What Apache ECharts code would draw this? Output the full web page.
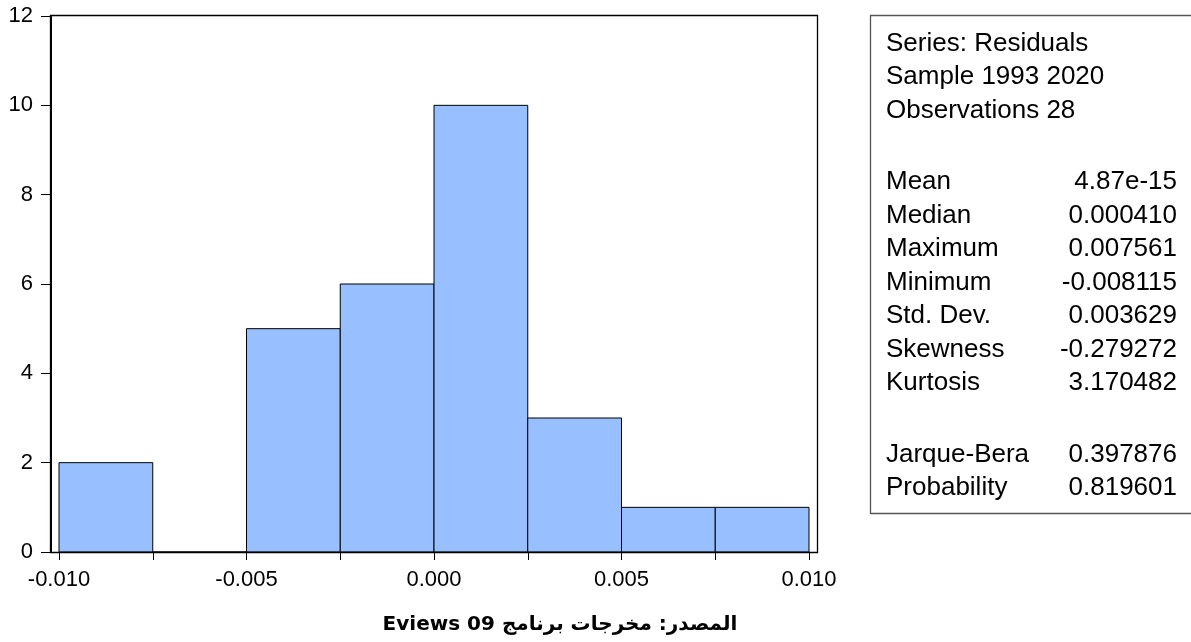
<!DOCTYPE html>
<html>
<head>
<meta charset="utf-8">
<script src="https://cdn.jsdelivr.net/npm/echarts@6/dist/echarts.min.js"></script>
<style>
  html, body { margin: 0; padding: 0; background: #fff; }
  #chart { width: 1191px; height: 642px; }
</style>
</head>
<body>
<div id="chart"></div>
<script>
// histogram of residuals, bins of 0.0025
const binStarts = [-0.01, -0.0075, -0.005, -0.0025, 0, 0.0025, 0.005, 0.0075];
const binWidth = 0.0025;
const counts = [2, 0, 5, 6, 10, 3, 1, 1];

const headerLines = ['Series: Residuals', 'Sample 1993 2020', 'Observations 28'];
const statLabels = ['Mean', 'Median', 'Maximum', 'Minimum', 'Std. Dev.', 'Skewness', 'Kurtosis'];
const statValues = ['4.87e-15', '0.000410', '0.007561', '-0.008115', '0.003629', '-0.279272', '3.170482'];
const testLabels = ['Jarque-Bera', 'Probability'];
const testValues = ['0.397876', '0.819601'];

// shown left-to-right; reads as "المصدر: مخرجات برنامج Eviews 09"
const caption = 'Eviews 09 المصدر: مخرجات برنامج';

const chart = echarts.init(document.getElementById('chart'));
const font = 'Liberation Sans, Arial, sans-serif';

const textEls = [];
const statFont = 26;
function addLine(y, left, right) {
  textEls.push({
    type: 'text', x: 886, y: y,
    style: { text: left, font: statFont + 'px ' + font, fill: '#000', verticalAlign: 'middle' }
  });
  if (right != null) {
    textEls.push({
      type: 'text', x: 1177, y: y,
      style: { text: right, font: statFont + 'px ' + font, fill: '#000', align: 'right', verticalAlign: 'middle' }
    });
  }
}
headerLines.forEach((t, i) => addLine(44 + i * 33.3, t));
statLabels.forEach((t, i) => addLine(182 + i * 33.5, t, statValues[i]));
testLabels.forEach((t, i) => addLine(455 + i * 33.3, t, testValues[i]));

chart.setOption({
  animation: false,
  backgroundColor: '#fff',
  grid: { left: 59, right: 382, top: 16, bottom: 90 },
  xAxis: {
    type: 'value',
    min: -0.01,
    max: 0.01,
    interval: 0.0025,
    axisLine: { onZero: false, lineStyle: { color: '#000', width: 1 } },
    axisTick: { show: true, length: 8, lineStyle: { color: '#000' } },
    axisLabel: {
      color: '#000',
      fontFamily: font,
      fontSize: 22,
      margin: 17,
      formatter: v => {
        const k = Math.round(v / binWidth);
        return k % 2 === 0 ? (k * binWidth).toFixed(3) : '';
      }
    },
    splitLine: { show: false }
  },
  yAxis: {
    type: 'value',
    min: 0,
    max: 12,
    interval: 2,
    offset: 8,
    axisLine: { show: true, onZero: false, lineStyle: { color: '#000', width: 1 } },
    axisTick: { show: true, length: 10, lineStyle: { color: '#000' } },
    axisLabel: { color: '#000', fontFamily: font, fontSize: 22, margin: 18 },
    splitLine: { show: false }
  },
  series: [{
    type: 'custom',
    data: binStarts.map((s, i) => [s, s + binWidth, counts[i]]),
    encode: { x: [0, 1], y: 2 },
    renderItem: (params, api) => {
      const p0 = api.coord([api.value(0), api.value(2)]);
      const p1 = api.coord([api.value(1), 0]);
      return {
        type: 'rect',
        shape: { x: p0[0], y: p0[1], width: p1[0] - p0[0], height: p1[1] - p0[1] },
        style: { fill: '#98bfff', stroke: '#000', lineWidth: 1 }
      };
    }
  }],
  graphic: [
    {
      type: 'rect', silent: true, z: 100,
      shape: { x: 50.5, y: 15.5, width: 767, height: 537 },
      style: { fill: null, stroke: '#000', lineWidth: 1.3 }
    },
    {
      type: 'rect', silent: true,
      shape: { x: 870.5, y: 15.5, width: 330, height: 498 },
      style: { fill: null, stroke: '#555', lineWidth: 1.3 }
    },
    ...textEls,
    {
      type: 'text', x: 560, y: 625,
      style: {
        text: caption,
        font: 'bold 20px DejaVu Sans, sans-serif',
        fill: '#000', align: 'center', verticalAlign: 'middle'
      }
    }
  ]
});
</script>
</body>
</html>
